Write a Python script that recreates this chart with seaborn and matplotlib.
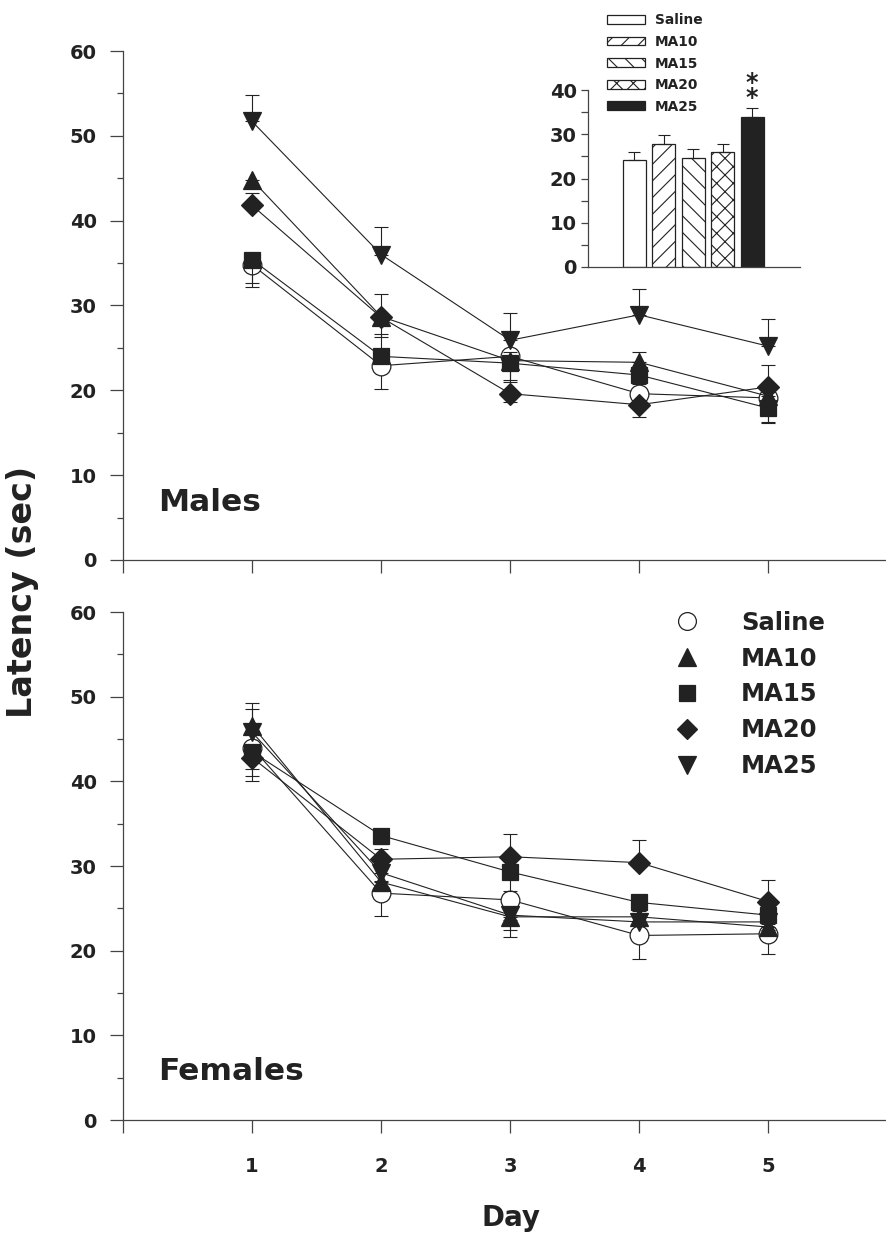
import pandas as pd
import matplotlib.pyplot as plt
import seaborn as sns
from matplotlib.lines import Line2D
from matplotlib.patches import Patch
from matplotlib.ticker import MultipleLocator

# data (latency in sec, day 1-5)
days = [1, 2, 3, 4, 5]
groups = ['Saline', 'MA10', 'MA15', 'MA20', 'MA25']

male_saline = [34.8, 22.9, 24.0, 19.6, 19.1]
male_ma10 = [44.8, 28.7, 23.5, 23.3, 19.3]
male_ma15 = [35.4, 24.0, 23.2, 21.8, 17.9]
male_ma20 = [41.8, 28.6, 19.6, 18.3, 20.4]
male_ma25 = [51.7, 36.0, 25.9, 28.9, 25.2]

# SEM, sign gives the direction the bar is drawn (+ up, - down)
male_saline_se = [-2.6, -2.8, -2.8, -1.5, -3.0]
male_ma10_se = [-0.8, -2.4, 1.0, 1.2, 1.0]
male_ma15_se = [-2.8, 2.6, -2.2, -1.0, -1.6]
male_ma20_se = [1.5, 2.7, -1.0, -1.4, 2.6]
male_ma25_se = [3.1, 3.2, 3.2, 3.0, 3.2]

female_saline = [44.0, 26.8, 26.0, 21.8, 22.0]
female_ma10 = [46.6, 28.1, 24.0, 24.0, 22.8]
female_ma15 = [43.5, 33.6, 29.3, 25.7, 24.2]
female_ma20 = [42.8, 30.8, 31.1, 30.4, 25.8]
female_ma25 = [45.8, 29.2, 24.2, 23.4, 23.4]

female_saline_se = [-2.5, -2.7, -2.4, -2.8, -2.4]
female_ma10_se = [2.6, -1.0, -1.5, 1.0, -1.0]
female_ma15_se = [-2.9, -1.0, -2.3, -1.0, -1.0]
female_ma20_se = [-2.8, 1.2, 2.7, 2.7, 2.6]
female_ma25_se = [2.8, -1.0, -2.6, 1.0, -1.0]

# inset: total latency over days (males)
bar_means = [24.1, 27.9, 24.7, 25.9, 34.0]
bar_se = [1.9, 2.0, 1.9, 1.9, 2.0]


def make_df(vals, errs):
    rows = []
    for g, v, e in zip(groups, vals, errs):
        for d, y, s in zip(days, v, e):
            rows.append({'day': d, 'group': g, 'latency': y, 'se': s})
    return pd.DataFrame(rows)


df_m = make_df([male_saline, male_ma10, male_ma15, male_ma20, male_ma25],
               [male_saline_se, male_ma10_se, male_ma15_se, male_ma20_se, male_ma25_se])
df_f = make_df([female_saline, female_ma10, female_ma15, female_ma20, female_ma25],
               [female_saline_se, female_ma10_se, female_ma15_se, female_ma20_se, female_ma25_se])

sns.set_theme(style='ticks')
plt.rcParams['font.family'] = ['DejaVu Sans']
plt.rcParams['font.weight'] = 'bold'
plt.rcParams['hatch.linewidth'] = 0.8

INK = '#222222'
markers = {'Saline': 'o', 'MA10': '^', 'MA15': 's', 'MA20': 'D', 'MA25': 'v'}
msizes = {'Saline': 13.5, 'MA10': 13.5, 'MA15': 12, 'MA20': 11, 'MA25': 13.5}
faces = {'Saline': 'white', 'MA10': INK, 'MA15': INK, 'MA20': INK, 'MA25': INK}

fig = plt.figure(figsize=(8.87, 12.35), dpi=100)
ax_top = fig.add_axes([0.1387, 0.5466, 0.8613, 0.4121])
ax_bot = fig.add_axes([0.1387, 0.0931, 0.8613, 0.4113])


def draw_panel(ax, df, label, label_y):
    for i, g in enumerate(groups):
        sub = df[df['group'] == g]
        lo = [-s if s < 0 else 0 for s in sub['se']]
        hi = [s if s > 0 else 0 for s in sub['se']]
        ax.errorbar(sub['day'], sub['latency'], yerr=[lo, hi], fmt='none',
                    ecolor=INK, elinewidth=0.8, capsize=4.8, capthick=0.8,
                    zorder=2 + i)
        sns.lineplot(data=sub, x='day', y='latency', ax=ax, color=INK,
                     linewidth=0.8, marker=markers[g], markersize=msizes[g],
                     markerfacecolor=faces[g], markeredgecolor=INK,
                     markeredgewidth=0.9, errorbar=None, zorder=3 + i)
    ax.set_xlim(0, 5.92)
    ax.set_ylim(0, 60)
    ax.set_xticks([0, 1, 2, 3, 4, 5])
    ax.yaxis.set_major_locator(MultipleLocator(10))
    ax.yaxis.set_minor_locator(MultipleLocator(5))
    ax.set_xlabel('')
    ax.set_ylabel('')
    sns.despine(ax=ax)
    for s in ['left', 'bottom']:
        ax.spines[s].set_color('#444444')
        ax.spines[s].set_linewidth(0.9)
    ax.tick_params(axis='both', which='major', length=9.5, width=0.9,
                   color='#444444', labelsize=14, labelcolor=INK, pad=9.5)
    ax.tick_params(axis='y', which='minor', length=4.5, width=0.9, color='#444444')
    ax.text(0.046, label_y, label, transform=ax.transAxes, fontsize=22.5,
            fontweight='bold', color=INK, va='center', ha='left')


draw_panel(ax_top, df_m, 'Males', 0.112)
draw_panel(ax_bot, df_f, 'Females', 0.095)
ax_top.set_xticklabels([])
ax_bot.set_xticklabels(['', '1', '2', '3', '4', '5'])
ax_bot.tick_params(axis='x', pad=17)

fig.text(0.025, 0.5206, 'Latency (sec)', rotation=90, fontsize=24,
         fontweight='bold', color=INK, ha='center', va='center')
fig.text(511 / 887, 0.0138, 'Day', fontsize=20, fontweight='bold', color=INK,
         ha='center', va='center')

# main legend
handles = [Line2D([], [], linestyle='none', marker=markers[g], markersize=msizes[g] * 0.95,
                  markerfacecolor=faces[g], markeredgecolor=INK, markeredgewidth=0.9)
           for g in groups]
leg = ax_bot.legend(handles, groups, loc='upper left', frameon=False,
                    bbox_to_anchor=(646 / 887, 1 - 589 / 1235),
                    bbox_transform=fig.transFigure, fontsize=17.5,
                    handlelength=1.6, handletextpad=1.4, labelspacing=0.485,
                    borderpad=0.4)
for t in leg.get_texts():
    t.set_color(INK)

# inset bar chart
ax_in = fig.add_axes([588 / 887, 1 - 267 / 1235, 212 / 887, 177 / 1235])
hatches = ['', '//', '\\\\', 'xx', '']
sns.barplot(x=groups, y=bar_means, ax=ax_in, width=0.78, color='white',
            edgecolor=INK, linewidth=0.9, errorbar=None)
for p, h, g in zip(ax_in.patches, hatches, groups):
    p.set_hatch(h)
    p.set_facecolor(INK if g == 'MA25' else 'white')
ax_in.errorbar(range(len(groups)), bar_means, yerr=[[0] * 5, bar_se], fmt='none',
               ecolor=INK, elinewidth=0.8, capsize=4.5, capthick=0.8)
ax_in.text(4, bar_means[4] + bar_se[4] - 0.5, '*\n*', ha='center', va='bottom',
           fontsize=17, fontweight='bold', color=INK, linespacing=0.5)
ax_in.set_xlim(-1.58, 5.63)
ax_in.set_ylim(0, 40)
ax_in.set_xticks([])
ax_in.yaxis.set_major_locator(MultipleLocator(10))
ax_in.yaxis.set_minor_locator(MultipleLocator(5))
ax_in.set_facecolor('none')
sns.despine(ax=ax_in)
for s in ['left', 'bottom']:
    ax_in.spines[s].set_color('#444444')
    ax_in.spines[s].set_linewidth(0.9)
ax_in.tick_params(axis='y', which='both', length=5, width=0.9, color='#444444',
                  labelsize=14, labelcolor=INK, pad=3)

bar_handles = [Patch(facecolor=INK if g == 'MA25' else 'white', edgecolor=INK,
                     hatch=h, linewidth=0.9) for g, h in zip(groups, hatches)]
leg2 = ax_in.legend(bar_handles, groups, loc='upper left', frameon=False,
                    bbox_to_anchor=(595 / 887, 1 - 1 / 1235),
                    bbox_transform=fig.transFigure, fontsize=9.9,
                    handlelength=2.75, handleheight=0.6, handletextpad=0.72,
                    labelspacing=0.55, borderpad=0.4)
for t in leg2.get_texts():
    t.set_color(INK)

plt.savefig('out.png', dpi=100)
